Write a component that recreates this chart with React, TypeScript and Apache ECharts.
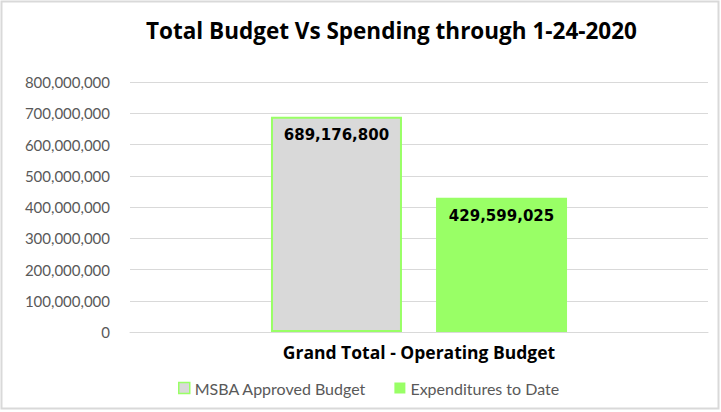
import React, { useEffect, useRef } from "react";
import * as echarts from "echarts";

const categories = ["Grand Total - Operating Budget"];
const seriesNames = ["MSBA Approved Budget", "Expenditures to Date"];
const approvedBudget = [689176800];
const expenditures = [429599025];
const yTicks = { min: 0, max: 800000000, interval: 100000000 };

const fmt = (v: number) => Number(v).toLocaleString("en-US");

export default function App() {
  const ref = useRef<HTMLDivElement>(null);
  useEffect(() => {
    if (!ref.current) return;
    const chart = echarts.init(ref.current, undefined, { renderer: "svg" });
    chart.setOption({
      animation: false,
      backgroundColor: "#ffffff",
      title: {
        text: "Total Budget Vs Spending through 1-24-2020",
        left: 141,
        top: 14,
        textStyle: { fontFamily: "Open Sans", fontWeight: "bold", fontSize: 22.5, color: "#000000" },
      },
      graphic: [
        {
          type: "rect",
          shape: { x: 1.5, y: 1.5, width: 717, height: 407 },
          style: { fill: "none", stroke: "#d9d9d9", lineWidth: 2 },
          silent: true,
        },
      ],
      legend: {
        left: 173,
        top: 375,
        itemWidth: 11,
        itemHeight: 11,
        itemGap: 28,
        textStyle: { fontFamily: "Lato", fontSize: 16, color: "#595959" },
        data: [
          { name: seriesNames[0], icon: "rect", itemStyle: { color: "#d9d9d9", borderColor: "#99ff66", borderWidth: 1.5 } },
          { name: seriesNames[1], icon: "rect", itemStyle: { color: "#99ff66", borderWidth: 0 } },
        ],
      },
      grid: { left: 130, right: 13, top: 82, bottom: 80, containLabel: false },
      xAxis: {
        type: "category",
        data: categories,
        axisLine: { show: true, lineStyle: { color: "#d9d9d9", width: 1 } },
        axisTick: { show: false },
        axisLabel: {
          margin: 11,
          fontFamily: "Open Sans",
          fontWeight: "bold",
          fontSize: 17.5,
          color: "#000000",
        },
      },
      yAxis: {
        type: "value",
        min: yTicks.min,
        max: yTicks.max,
        interval: yTicks.interval,
        axisLine: { show: false },
        axisTick: { show: false },
        splitLine: { lineStyle: { color: "#d9d9d9", width: 1 } },
        axisLabel: {
          margin: 20,
          fontFamily: "Lato",
          fontSize: 15,
          color: "#595959",
          formatter: (v: number) => fmt(v),
        },
      },
      series: [
        {
          name: seriesNames[0],
          type: "bar",
          data: approvedBudget,
          barWidth: 131,
          barGap: "26%",
          itemStyle: { color: "#d9d9d9", borderColor: "#99ff66", borderWidth: 2 },
          label: {
            show: true,
            position: "insideTop",
            distance: 11,
            fontFamily: "DejaVu Sans",
            fontWeight: "bold",
            fontSize: 15,
            color: "#000000",
            formatter: (p: any) => fmt(p.value),
          },
        },
        {
          name: seriesNames[1],
          type: "bar",
          data: expenditures,
          barWidth: 131,
          itemStyle: { color: "#99ff66" },
          label: {
            show: true,
            position: "insideTop",
            distance: 11,
            fontFamily: "DejaVu Sans",
            fontWeight: "bold",
            fontSize: 15,
            color: "#000000",
            formatter: (p: any) => fmt(p.value),
          },
        },
      ],
    });
    return () => chart.dispose();
  }, []);
  return (
    <div
      ref={ref}
      style={{ position: "absolute", left: 0, top: 0, width: 721, height: 412 }}
    />
  );
}
